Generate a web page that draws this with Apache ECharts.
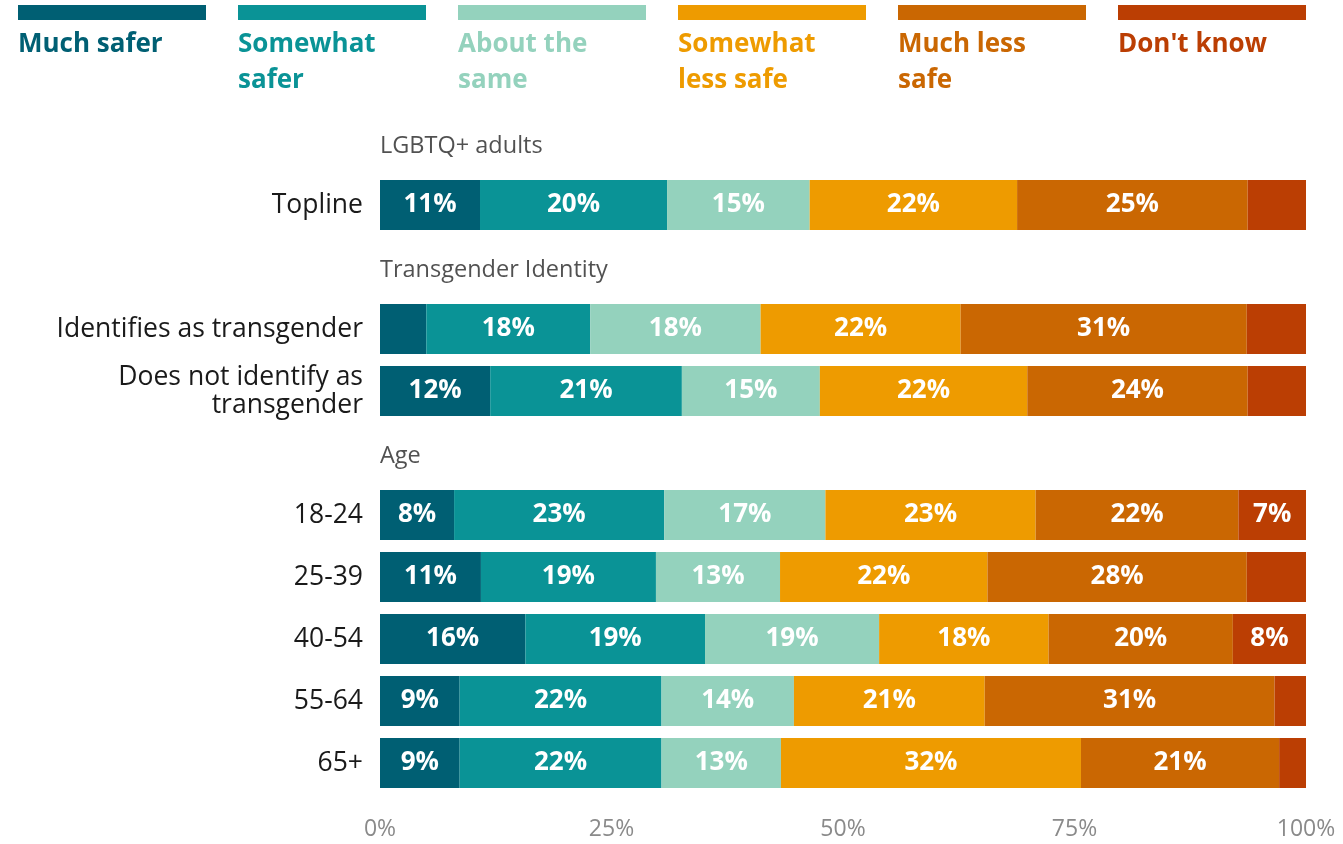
<!DOCTYPE html>
<html><head><meta charset="utf-8">
<script src="https://cdn.jsdelivr.net/npm/echarts@6/dist/echarts.min.js"></script>
<style>html,body{margin:0;padding:0;background:#fff}#c{width:1343px;height:844px}</style>
</head><body><div id="c"></div>
<script>
// Rows (top to bottom); headers have no bar data
const rows = ['LGBTQ+ adults','Topline','Transgender Identity','Identifies as transgender','Does not identify as\ntransgender','Age','18-24','25-39','40-54','55-64','65+'];
const headers = ['LGBTQ+ adults','Transgender Identity','Age'];
const seriesNames = ['Much safer','Somewhat safer','About the same','Somewhat less safe','Much less safe',"Don't know"];
const legendTexts = ['Much safer','Somewhat\nsafer','About the\nsame','Somewhat\nless safe','Much less\nsafe',"Don't know"];
const colors = ['#005f73','#0a9396','#94d2bd','#ee9b00','#ca6702','#bb3e03'];
// Values per series, aligned with rows (null for header rows)
const muchSafer     = [null,10.8,null,5.0,11.9,null,8.0,10.9,15.7,8.6,8.6];
const somewhatSafer = [null,20.2,null,17.7,20.7,null,22.7,18.9,19.4,21.8,21.8];
const aboutSame     = [null,15.4,null,18.4,14.9,null,17.4,13.4,18.8,14.3,12.9];
const somewhatLess  = [null,22.4,null,21.6,22.4,null,22.7,22.4,18.3,20.6,32.4];
const muchLess      = [null,24.9,null,30.9,23.8,null,21.9,28.0,19.9,31.3,21.4];
const dontKnow      = [null,6.3,null,6.4,6.3,null,7.3,6.4,7.9,3.4,2.9];
const xTicks = [0,25,50,75,100];

const values = [muchSafer,somewhatSafer,aboutSame,somewhatLess,muchLess,dontKnow];
const FONT = 'Open Sans';

const series = values.map((v,i)=>({
  name: seriesNames[i], type:'bar', stack:'all', barWidth:50,
  itemStyle:{color:colors[i]},
  data: v.map(x=>x==null?'-':x),
  label:{show:true, position:'inside', color:'#fff', fontFamily:FONT, fontWeight:'bold', fontSize:26,
    formatter:p=> (p.value>=6.8 ? Math.round(p.value)+'%' : '')}
}));
series.push({
  type:'scatter', symbolSize:0, silent:true,
  data: headers.map(h=>[0,h]),
  label:{show:true, position:'right', distance:0, offset:[0,3], formatter:p=>p.data[1], color:'#262626', fontFamily:FONT, fontSize:23.5}
});

const graphic = [];
seriesNames.forEach((n,i)=>{
  const x = 18 + i*220;
  graphic.push({type:'rect', left:x, top:5, shape:{width:188,height:15}, style:{fill:colors[i]}});
  graphic.push({type:'text', left:x, top:27, style:{text:legendTexts[i], fill:colors[i], font:'bold 26px '+FONT, lineHeight:36}});
});

const chart = echarts.init(document.getElementById('c'));
chart.setOption({
  animation:false,
  grid:{left:380, right:37, top:112, bottom:50, containLabel:false},
  xAxis:{type:'value', min:0, max:100, interval:25,
    axisLine:{show:false}, axisTick:{show:false}, splitLine:{show:false},
    axisLabel:{formatter:v=>v+'%', color:'#8a8a8a', fontFamily:FONT, fontSize:23, margin:24,
      customValues: xTicks}},
  yAxis:{type:'category', data:rows, inverse:true,
    axisLine:{show:false}, axisTick:{show:false},
    axisLabel:{margin:17, color:'#1a1a1a', fontFamily:FONT, fontSize:26.5, lineHeight:28,
      formatter:v=> headers.includes(v)?'':v}},
  series, graphic
});
</script></body></html>
